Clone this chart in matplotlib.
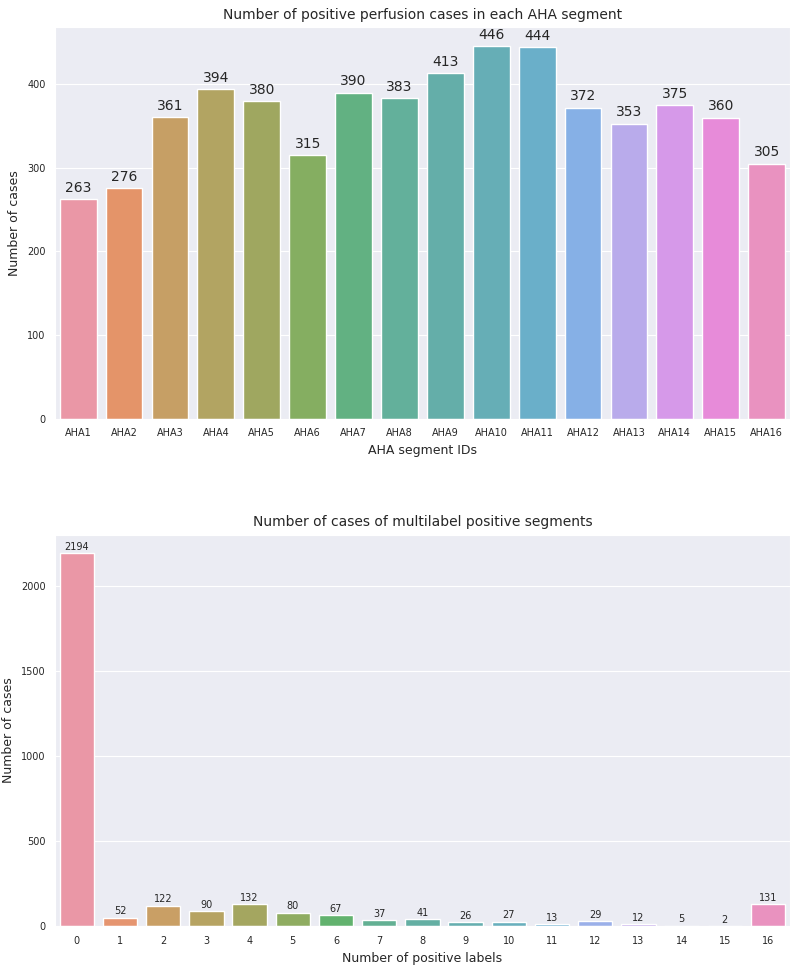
import matplotlib
matplotlib.use("Agg")
import matplotlib.pyplot as plt
import seaborn as sns

# AHA segment counts (top chart)
segments = ["AHA1", "AHA2", "AHA3", "AHA4", "AHA5", "AHA6", "AHA7", "AHA8",
            "AHA9", "AHA10", "AHA11", "AHA12", "AHA13", "AHA14", "AHA15", "AHA16"]
segment_counts = [263, 276, 361, 394, 380, 315, 390, 383,
                  413, 446, 444, 372, 353, 375, 360, 305]

# multilabel counts (bottom chart)
n_labels = [str(i) for i in range(17)]
label_counts = [2194, 52, 122, 90, 132, 80, 67, 37, 41, 26, 27, 13, 29, 12, 5, 2, 131]


def soft_palette(n, fade=0.17):
    # husl palette, desaturated like seaborn bars, then washed towards white
    pal = [sns.desaturate(c, 0.75) for c in sns.color_palette("husl", n)]
    return [tuple(v * (1 - fade) + fade for v in c) for c in pal]


sns.set_style("darkgrid")
plt.rcParams['font.family'] = ['DejaVu Sans']

fig = plt.figure(figsize=(8, 9.67), dpi=100)
ax1 = fig.add_axes([0.069, 0.567, 0.918, 0.405])
ax2 = fig.add_axes([0.069, 0.042, 0.918, 0.405])
for ax in (ax1, ax2):
    ax.set_facecolor("#EBECF3")

# top: positive perfusion cases per segment
sns.barplot(x=segments, y=segment_counts, hue=segments, legend=False,
            palette=soft_palette(len(segments)), saturation=1, ax=ax1)
for c in ax1.containers:
    ax1.bar_label(c, fontsize=10, padding=3, color="#262626")
ax1.set_title("Number of positive perfusion cases in each AHA segment", fontsize=10)
ax1.set_xlabel("AHA segment IDs", fontsize=9)
ax1.set_ylabel("Number of cases", fontsize=9)
ax1.tick_params(labelsize=7)

# bottom: number of positive labels per case
sns.barplot(x=n_labels, y=label_counts, hue=n_labels, legend=False,
            palette=soft_palette(len(n_labels)), saturation=1, ax=ax2)
for c in ax2.containers:
    ax2.bar_label(c, fontsize=7, padding=1, color="#262626")
ax2.set_title("Number of cases of multilabel positive segments", fontsize=10)
ax2.set_xlabel("Number of positive labels", fontsize=9)
ax2.set_ylabel("Number of cases", fontsize=9)
ax2.tick_params(labelsize=7)

fig.savefig("out.png", dpi=100)
